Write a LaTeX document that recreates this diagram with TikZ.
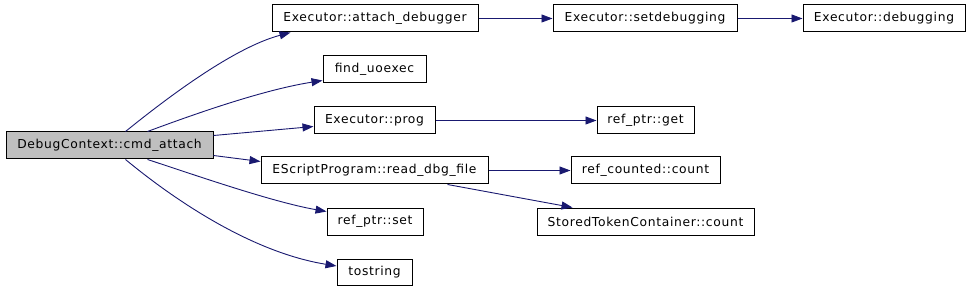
\documentclass[tikz,border=0pt]{standalone}
\usepackage{fontspec}
\setmainfont{DejaVu Sans}[LetterSpace=5.5]
\usetikzlibrary{arrows.meta,calc}
\definecolor{edgec}{RGB}{25,25,112}
\definecolor{mainfill}{RGB}{191,191,191}
\tikzset{
  fn/.style={draw=black, line width=1pt, fill=white, inner sep=0pt, minimum height=27pt,
    font=\fontsize{12.3}{14}\selectfont, text=black},
  call/.style={draw=edgec, line width=0.9pt, -{Triangle[length=11pt,width=8pt]}}
}
\begin{document}
\begin{tikzpicture}[x=1pt,y=-1pt]
\useasboundingbox (0,0) rectangle (971,291);
\node[fn, fill=mainfill, minimum width=207pt] (main) at (109.5,145.5) {DebugContext::cmd\_attach};
\node[fn, minimum width=206pt] (ad) at (375,18.5) {Executor::attach\_debugger};
\node[fn, minimum width=103pt] (fu) at (374.5,69.5) {find\_uoexec};
\node[fn, minimum width=121pt] (prog) at (374.5,120.5) {Executor::prog};
\node[fn, minimum width=227pt] (rdf) at (374.5,170.5) {EScriptProgram::read\_dbg\_file};
\node[fn, minimum width=96pt] (set) at (375,221.5) {ref\_ptr::set};
\node[fn, minimum width=75pt, minimum height=26pt] (tos) at (374.5,272) {tostring};
\node[fn, minimum width=184pt] (sd) at (645,18.5) {Executor::setdebugging};
\node[fn, minimum width=162pt] (dbg) at (884,18.5) {Executor::debugging};
\node[fn, minimum width=97pt] (get) at (645.5,120.5) {ref\_ptr::get};
\node[fn, minimum width=149pt] (rcc) at (645.5,170.5) {ref\_counted::count};
\node[fn, minimum width=217pt] (stc) at (645.5,221.5) {StoredTokenContainer::count};

\draw[call] ($(main.north west)+(120,0)$) .. controls (162,102) and (232,48) .. ($(ad.south west)+(19,0)$);
\draw[call] ($(main.north west)+(142,0)$) .. controls (192,115) and (262,90) .. ($(fu.west)+(0,11)$);
\draw[call] ($(main.east)+(0,-10)$) -- ($(prog.west)+(0,6)$);
\draw[call] ($(main.east)+(0,10)$) -- ($(rdf.west)+(0,-9)$);
\draw[call] ($(main.south west)+(142,0)$) .. controls (192,174) and (272,202) .. ($(set.west)+(0,-10)$);
\draw[call] ($(main.south west)+(120,0)$) .. controls (172,198) and (250,252) .. ($(tos.west)+(0,-6)$);
\draw[call] (ad) -- (sd);
\draw[call] (sd) -- (dbg);
\draw[call] (prog) -- (get);
\draw[call] (rdf) -- (rcc);
\draw[call] ($(rdf.south west)+(187,0)$) -- ($(stc.north west)+(36,0)$);
\end{tikzpicture}
\end{document}
